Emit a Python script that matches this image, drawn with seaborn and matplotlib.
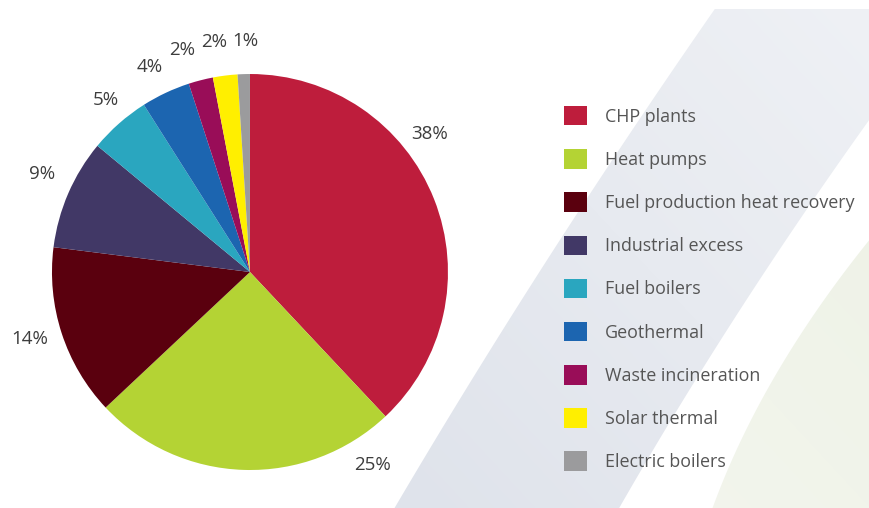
import numpy as np
import matplotlib
matplotlib.use("Agg")
import matplotlib.pyplot as plt
from matplotlib.patches import Polygon, Patch
from matplotlib.colors import LinearSegmentedColormap
import seaborn as sns

# District heating supply by source (share of total, %)
sources = [
    "CHP plants",
    "Heat pumps",
    "Fuel production heat recovery",
    "Industrial excess",
    "Fuel boilers",
    "Geothermal",
    "Waste incineration",
    "Solar thermal",
    "Electric boilers",
]
shares = [38, 25, 14, 9, 5, 4, 2, 2, 1]
colors = ["#be1d3c", "#b4d334", "#5a000e", "#413866", "#2aa6bf",
          "#1c65b0", "#990d58", "#ffef00", "#9b9b9d"]

# Where each percentage label sits, in pie units (radius = 1)
label_xy = [(0.909, 0.697), (0.621, -0.975), (-1.111, -0.338),
            (-1.051, 0.495), (-0.727, 0.869), (-0.505, 1.035),
            (-0.343, 1.121), (-0.182, 1.162), (-0.025, 1.167)]

sns.set_theme(style="white")
plt.rcParams["font.family"] = ["Open Sans", "DejaVu Sans"]

W, H = 869, 508
fig = plt.figure(figsize=(W / 100, H / 100), dpi=100, facecolor="white")

# Decorative background swooshes, drawn in pixel space
bg = fig.add_axes([0, 0, 1, 1])
bg.set_xlim(0, W)
bg.set_ylim(H, 0)
bg.axis("off")


def smooth_edge(pts, y0, y1, n=80):
    """Smooth curve x(y) through a few guide points."""
    px, py = zip(*pts)
    coef = np.polyfit(py, px, 2)
    ys = np.linspace(y0, y1, n)
    return list(zip(np.polyval(coef, ys), ys))


yy, xx = np.mgrid[0:H, 0:W]
t = np.clip(0.5 * (xx - 400) / 470 + 0.5 * (H - yy) / H, 0, 1)

left_edge = smooth_edge([(712, 9), (625, 150), (540, 272), (463, 382),
                         (398, 508)], 9, H)
right_edge = smooth_edge([(869, 122), (813, 200), (767, 263), (727, 330),
                          (680, 413), (617, 508)], H, 110)
band = Polygon(left_edge + right_edge + [(W, 110), (W, 9)], closed=True,
               facecolor="none", edgecolor="none")
bg.add_patch(band)
gray_cmap = LinearSegmentedColormap.from_list("band", ["#dfe3eb", "#eff1f5"])
im = bg.imshow(t, extent=[0, W, H, 0], cmap=gray_cmap, aspect="auto",
               vmin=0, vmax=1, interpolation="bilinear")
im.set_clip_path(band)

leaf_edge = smooth_edge([(869, 240), (813, 317), (767, 390), (737, 447),
                         (713, 508)], 230, H)
leaf = Polygon(leaf_edge + [(W, H), (W, 230)], closed=True,
               facecolor="none", edgecolor="none")
bg.add_patch(leaf)
green_cmap = LinearSegmentedColormap.from_list("leaf", ["#f5f7f0", "#edf1e5"])
im2 = bg.imshow(t, extent=[0, W, H, 0], cmap=green_cmap, aspect="auto",
                vmin=0, vmax=1, interpolation="bilinear")
im2.set_clip_path(leaf)

# Pie chart
ax = fig.add_axes([0.0598, 0.0748, 0.4557, 0.7795])
ax.pie(shares, colors=colors, startangle=90, counterclock=False,
       radius=1, wedgeprops=dict(linewidth=0))
ax.set_xlim(-1, 1)
ax.set_ylim(-1, 1)
ax.set_aspect("equal")
ax.axis("off")

for (x, y), s in zip(label_xy, shares):
    ax.text(x, y, f"{s}%", ha="center", va="center", fontsize=13.5,
            color="#3d3d3d")

# Legend
handles = [Patch(facecolor=c, edgecolor="none", label=l)
           for c, l in zip(colors, sources)]
fig.legend(handles=handles, loc="upper left",
           bbox_to_anchor=(564 / W, 1 - 106 / H), frameon=False,
           fontsize=12.9, handlelength=1.29, handleheight=1.29,
           handletextpad=1.0, labelspacing=1.31, borderpad=0,
           borderaxespad=0, labelcolor="#555555")

fig.savefig("out.png", dpi=100, facecolor="white")
